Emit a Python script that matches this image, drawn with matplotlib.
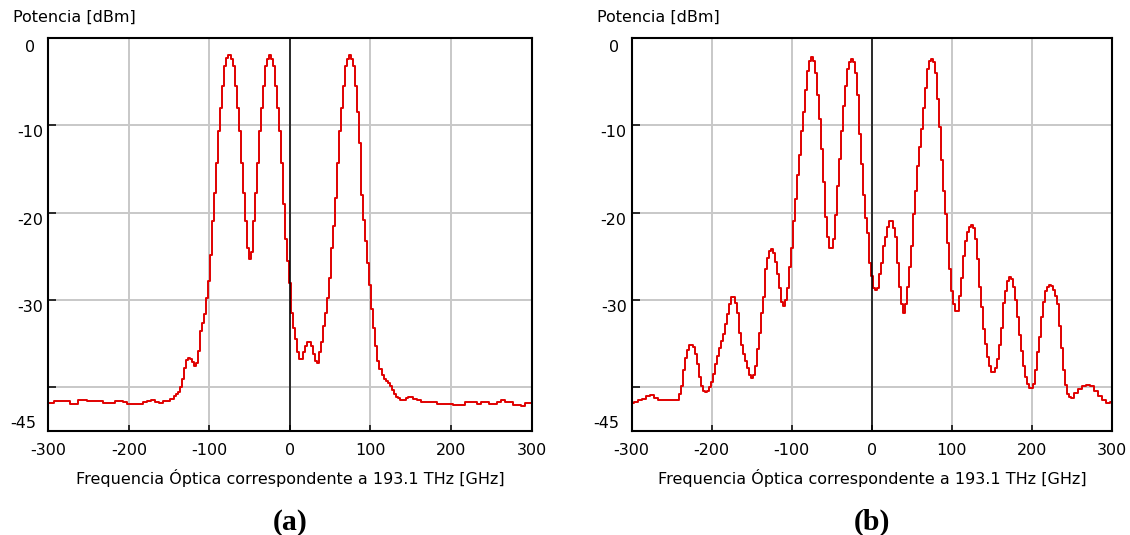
import numpy as np
import matplotlib
matplotlib.use("Agg")
import matplotlib.pyplot as plt
from matplotlib import transforms

plt.rcParams['font.family'] = ['DejaVu Sans']

# ---------------------------------------------------------------- data
# Frequency grids (GHz relative to 193.1 THz): coarse on the flat floor,
# finer where the spectrum has structure.
freq_a = np.concatenate([np.arange(-300, -149, 5.0),
                         np.arange(-147.5, 148, 2.5),
                         np.arange(150, 301, 5.0)])
freq_b = np.concatenate([np.arange(-300, -249, 5.0),
                         np.arange(-247.5, 248, 2.5),
                         np.arange(250, 301, 5.0)])

# (a) optical spectrum, dBm
power_a = [
    # -300 .. -150 (5 GHz)
    -41.8, -41.8, -41.6, -41.6, -41.6, -41.6, -41.9, -41.9, -41.5, -41.5,
    -41.6, -41.6, -41.6, -41.6, -41.8, -41.8, -41.8, -41.6, -41.6, -41.7,
    -41.9, -41.9, -41.9, -41.9, -41.7, -41.6, -41.4, -41.7, -41.8, -41.6,
    -41.6,
    # -147.5 .. 147.5 (2.5 GHz)
    -41.3, -41.3, -41.0, -40.8, -40.5, -40.0, -39.0, -37.8, -36.9, -36.6,
    -36.8, -37.1, -37.6, -37.2, -35.8, -33.6, -32.6, -31.6, -29.8, -27.8,
    -24.8, -21.0, -17.8, -14.3, -10.6, -8.0, -5.5, -3.2, -2.3, -2.0,
    -2.4, -3.2, -5.5, -8.0, -10.6, -14.3, -17.8, -21.0, -24.0, -25.3,
    -24.5, -21.0, -17.8, -14.3, -10.6, -8.0, -5.5, -3.2, -2.4, -2.0,
    -2.4, -3.2, -5.5, -8.0, -10.6, -14.3, -19.0, -23.0, -25.5, -28.0,
    -31.5, -33.2, -34.5, -36.0, -36.8, -36.8, -36.0, -35.3, -34.8, -34.8,
    -35.3, -36.2, -37.0, -37.2, -36.0, -34.8, -33.0, -31.5, -29.8, -27.5,
    -24.0, -21.5, -18.3, -14.3, -10.6, -8.0, -5.5, -3.2, -2.4, -2.0,
    -2.4, -3.2, -5.5, -8.5, -12.0, -18.0, -20.8, -23.3, -25.8, -28.3,
    -31.0, -33.2, -35.3, -37.0, -37.9, -38.6, -39.0, -39.3, -39.5, -39.8,
    -40.3, -40.8, -41.1, -41.2, -41.4, -41.4, -41.4, -41.2, -41.1,
    # 150 .. 300 (5 GHz)
    -41.1, -41.3, -41.4, -41.7, -41.7, -41.7, -41.7, -41.9, -41.9, -41.9,
    -41.9, -42.0, -42.0, -42.0, -41.7, -41.7, -41.7, -41.9, -41.7, -41.7,
    -41.9, -41.9, -41.7, -41.5, -41.7, -41.7, -42.0, -42.0, -42.1, -41.8,
    -41.8,
]

# (b) optical spectrum, dBm
power_b = [
    # -300 .. -250 (5 GHz)
    -41.8, -41.7, -41.5, -41.3, -41.0, -40.9, -41.2, -41.4, -41.5, -41.5,
    -41.5,
    # -247.5 .. 247.5 (2.5 GHz)
    -41.5, -41.5, -41.4, -40.8, -39.8, -38.0, -36.6, -35.7, -35.2, -35.1,
    -35.4, -36.2, -37.3, -38.8, -39.9, -40.4, -40.5, -40.4, -40.0, -39.4,
    -38.5, -37.3, -36.4, -35.5, -34.7, -33.9, -32.8, -31.6, -30.5, -29.7,
    -29.7, -30.3, -31.5, -33.8, -35.2, -36.2, -37.0, -37.8, -38.6, -38.9,
    -38.6, -37.5, -35.6, -33.8, -31.5, -29.6, -26.5, -25.2, -24.4, -24.2,
    -24.6, -25.6, -27.0, -28.6, -30.2, -30.7, -30.0, -28.6, -26.2, -24.0,
    -21.0, -18.4, -15.7, -13.4, -10.6, -8.5, -6.0, -3.8, -2.6, -2.2,
    -2.6, -4.0, -6.5, -9.3, -12.7, -16.5, -20.5, -22.8, -24.0, -24.0,
    -23.0, -20.3, -17.0, -13.8, -10.6, -7.8, -5.5, -3.6, -2.7, -2.4,
    -2.8, -4.0, -6.5, -11.0, -14.4, -18.0, -20.6, -22.3, -25.8, -27.3,
    -28.6, -28.8, -28.6, -27.0, -25.8, -23.8, -22.8, -21.6, -20.9, -20.9,
    -21.8, -22.8, -25.8, -28.5, -30.5, -31.5, -30.5, -28.5, -26.2, -23.8,
    -20.1, -17.5, -14.6, -12.5, -10.4, -8.0, -5.7, -3.6, -2.6, -2.4,
    -2.8, -4.0, -7.0, -10.2, -14.0, -17.5, -20.1, -23.5, -26.4, -29.0,
    -30.5, -31.3, -31.3, -29.5, -27.5, -25.0, -23.3, -22.2, -21.6, -21.4,
    -21.8, -23.0, -25.3, -28.5, -30.8, -33.3, -35.0, -36.5, -37.6, -38.2,
    -38.3, -37.8, -36.8, -35.2, -33.2, -30.4, -29.0, -27.8, -27.4, -27.6,
    -28.5, -30.0, -32.0, -34.0, -35.8, -37.5, -38.8, -39.6, -40.1, -40.1,
    -39.6, -38.0, -36.0, -34.2, -32.0, -30.2, -29.0, -28.5, -28.3, -28.4,
    -28.8, -29.5, -30.5, -33.0, -35.5, -38.0, -39.7, -40.8, -41.1,
    # 250 .. 300 (5 GHz)
    -41.2, -40.7, -40.2, -39.8, -39.7, -39.9, -40.4, -41.0, -41.5, -41.8,
    -41.7,
]

x_ticks = [-300, -200, -100, 0, 100, 200, 300]
x_tick_labels = ['-300', '-200', '-100', '0', '100', '200', '300']
y_grid = [-10, -20, -30, -40]
y_label_values = [0, -10, -20, -30, -45]
y_label_texts = ['0', '-10', '-20', '-30', '-45']
panel_tags = ['(a)', '(b)']
y_title = 'Potencia [dBm]'
x_title = 'Frequencia Óptica correspondente a 193.1 THz [GHz]'

# ---------------------------------------------------------------- figure
W, H = 1130, 535
fig = plt.figure(figsize=(W / 100, H / 100), dpi=100)

boxes = [(48.3, 531.5), (631.7, 1112.0)]
top_px, bot_px = 38.0, 431.0

RED = '#e00000'
GRID = '#c8c8c8'
FS = 11.5


def px(n):
    """Pixels to points at 100 dpi."""
    return n * 0.72


def draw_panel(x0, x1, freq, power, tag):
    ax = fig.add_axes([x0 / W, 1 - bot_px / H, (x1 - x0) / W, (bot_px - top_px) / H])
    ax.set_xlim(-300, 300)
    ax.set_ylim(-45, 0)

    for v in x_ticks[1:-1]:
        ax.axvline(v, color=GRID, lw=1.4, zorder=1)
    for v in y_grid:
        ax.axhline(v, color=GRID, lw=1.4, zorder=1)

    ax.plot(freq, power, drawstyle='steps-mid', color=RED, lw=1.4, zorder=3)
    ax.axvline(0, color='black', lw=1.1, zorder=4)

    for s in ax.spines.values():
        s.set_linewidth(1.5)
        s.set_color('black')
        s.set_zorder(5)

    ax.set_xticks(x_ticks)
    ax.set_xticklabels(x_tick_labels, fontsize=FS)
    ax.tick_params(axis='x', direction='in', length=4.5, width=1.1, pad=px(12))
    ax.set_yticks(y_grid)
    ax.set_yticklabels([])
    ax.tick_params(axis='y', direction='in', length=6, width=1.1)

    # y tick labels, placed by hand (end labels tucked inside the frame)
    trans = transforms.blended_transform_factory(ax.transAxes, ax.transData)
    for v, t in zip(y_label_values, y_label_texts):
        dx, dy, va = -5, 0, 'top'
        if v == 0:
            dx, dy = -13, -2
        elif v == -45:
            dx, va = -12, 'bottom'
        off = transforms.ScaledTranslation(px(dx) / 72, px(dy) / 72, fig.dpi_scale_trans)
        ax.text(0, v, t, transform=trans + off, ha='right', va=va, fontsize=FS)

    ax.set_xlabel(x_title, fontsize=FS, labelpad=px(11))
    fig.text((x0 - 35) / W, 1 - 17 / H, y_title, ha='left', va='center', fontsize=FS)
    fig.text((x0 + x1) / 2 / W, 1 - 522 / H, tag, ha='center', va='center',
             fontsize=21.5, fontweight='bold', family='Liberation Serif')
    return ax


draw_panel(*boxes[0], freq_a, power_a, panel_tags[0])
draw_panel(*boxes[1], freq_b, power_b, panel_tags[1])

fig.savefig('out.png', dpi=100)
